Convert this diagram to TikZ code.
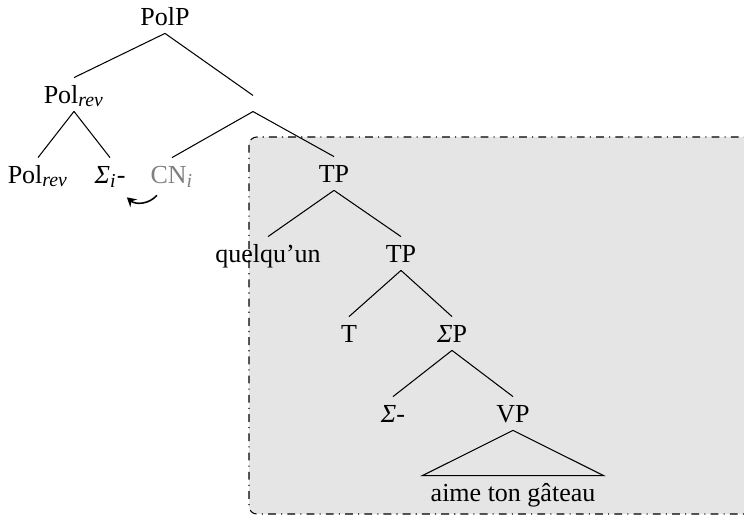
\documentclass[tikz,border=0pt]{standalone}
\usepackage{fontspec}
\setmainfont{Liberation Serif}
\usepackage{tikz}
\usetikzlibrary{arrows.meta}

\begin{document}
\begin{tikzpicture}[x=0.3846pt,y=-0.3846pt,
		lab/.style={inner xsep=3pt, inner ysep=3pt, text height=6.6pt, text depth=0pt},
		gap/.style={inner sep=0pt, minimum width=1pt, minimum height=5.8pt}]
		\useasboundingbox (0,0) rectangle (744,516);
		\draw[dash dot, rounded corners=3pt, fill=black!10] (249,137) rectangle (780,514);
		\node[lab] (polp) at (165,16.5) {PolP};
		\node[lab] (polrev) at (74,94.5) {Pol\textsubscript{\fontsize{7.6}{8}\selectfont\textit{rev}}};
		\node[gap] (bar) at (253,103.5) {};
		\node[lab] (pol) at (38,174.5) {Pol\textsubscript{\fontsize{7.6}{8}\selectfont\textit{rev}}};
		\node[lab] (sig) at (110,174.5) {\textit{Σ}\textsubscript{\fontsize{7.6}{8}\selectfont\textit{i}}-};
		\node[lab, text=black!50] (cn) at (172,174.5) {CN\textsubscript{\fontsize{7.6}{8}\selectfont\textit{i}}};
		\node[lab] (tp) at (334,173.5) {TP};
		\node[lab] (quel) at (268,253.5) {quelqu’un};
		\node[lab] (tpp) at (401,253.5) {TP};
		\node[lab] (t) at (349,333.5) {T};
		\node[lab] (sigp) at (452,333.5) {\textit{Σ}P};
		\node[lab] (sigm) at (393,413.5) {\textit{Σ}-};
		\node[lab] (vp) at (513,413.5) {VP};
		\node[lab] (aime) at (513,492.5) {aime ton gâteau};
		\draw (polp.south) -- (polrev.north);
		\draw (polp.south) -- (bar.north);
		\draw (polrev.south) -- (pol.north);
		\draw (polrev.south) -- (sig.north);
		\draw (bar.south) -- (cn.north);
		\draw (bar.south) -- (tp.north);
		\draw (tp.south) -- (quel.north);
		\draw (tp.south) -- (tpp.north);
		\draw (tpp.south) -- (t.north);
		\draw (tpp.south) -- (sigp.north);
		\draw (sigp.south) -- (sigm.north);
		\draw (sigp.south) -- (vp.north);
		\draw (vp.south) -- (aime.north west) -- (aime.north east) -- cycle;
		\draw[-{Stealth[length=3.5pt,width=4pt,inset=1.2pt]}, semithick] ([xshift=-5.8pt,yshift=-1.5pt]cn.south) to[bend left=45] ([xshift=6.5pt,yshift=-2.3pt]sig.south);
	% movement of CN
	\end{tikzpicture}
\end{document}
